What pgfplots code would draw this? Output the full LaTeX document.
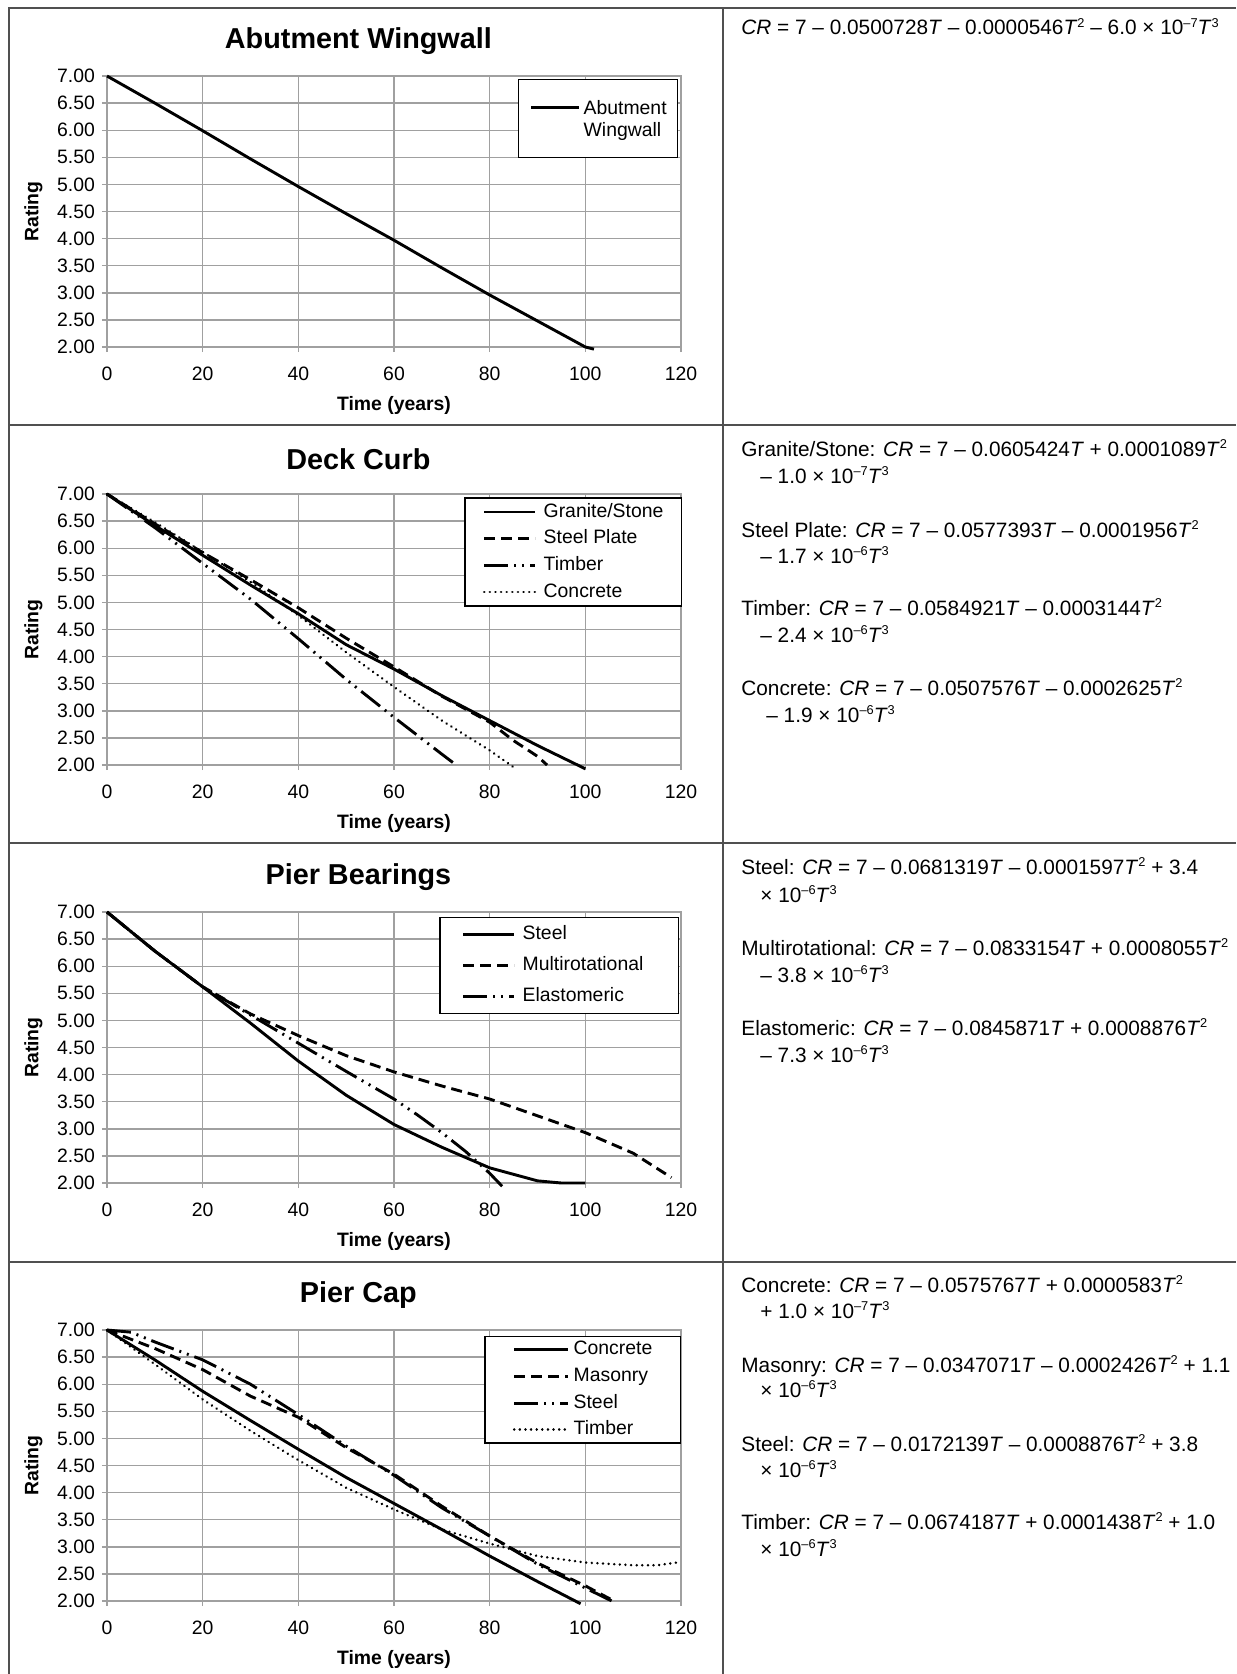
\documentclass[border=0pt]{standalone}
\usepackage{fontspec}
\setmainfont{Liberation Sans}
\usepackage{pgfplots}
\pgfplotsset{compat=1.18}
\definecolor{gridc}{RGB}{160,160,160}
\definecolor{tabc}{RGB}{80,80,80}
\newcommand\chartfont{\fontsize{9.7pt}{12pt}\selectfont}
\newcommand\eqfont{\fontsize{10.4pt}{13.5pt}\selectfont}
\newcommand\CR{\textit{CR}}
\newcommand\TT{\textit{T}}
\newcommand\sups[1]{\raisebox{3.9pt}{\fontsize{6.4pt}{7pt}\selectfont #1}}
\newcommand\sq{\sups{2}}
\newcommand\cu{\sups{3}}
\pgfplotsset{
  crchart/.style={
    scale only axis, width=287pt, height=135.5pt, anchor=south west,
    xmin=0, xmax=120, ymin=2, ymax=7, clip=false,
    xtick={0,20,...,120}, ytick={2,2.5,...,7},
    /pgf/number format/assume math mode=true,
    yticklabel style={/pgf/number format/.cd, fixed, fixed zerofill, precision=2},
    xticklabel style={yshift=-4pt},
    ticklabel style={font=\chartfont},
    grid=major, major grid style={gridc, line width=0.7pt},
    axis line style={gridc, line width=0.7pt},
    tick style={gridc, line width=0.7pt},
    tick align=outside, major tick length=2.5pt,
    xtick pos=bottom, ytick pos=left,
    xlabel={\bfseries Time (years)}, ylabel={\bfseries Rating},
    label style={font=\chartfont},
    xlabel style={at={(axis description cs:0.5,-0.214)}, anchor=center},
    ylabel style={at={(axis description cs:-0.128,0.5)}, anchor=center},
    title style={at={(axis description cs:0.438,1.084)}, anchor=center, yshift=0pt, font=\fontsize{14.4pt}{16pt}\selectfont\bfseries},
    legend cell align=left,
    legend style={draw=black, line width=0.75pt, fill=white, font=\chartfont,
      nodes={inner sep=0pt, text height=7pt, text depth=2pt}, column sep=3.5pt},
  },
  s1/.style={black, line width=1.45pt, line join=round},
  s2/.style={black, line width=1.45pt, dash pattern=on 5.5pt off 3pt},
  s3/.style={black, line width=1.45pt, dash pattern=on 12pt off 3pt on 1pt off 3pt on 1pt off 3pt},
  s4/.style={black, line width=1.35pt, line cap=round, dash pattern=on 0.01pt off 2.8pt},
}
\begin{document}
\begin{tikzpicture}
\useasboundingbox (0,0) rectangle (618pt,-837pt);
\begin{scope}[x=0.5pt,y=-0.5pt]
\draw[tabc, line width=0.75pt] (9,1674) -- (9,8) -- (1236,8);
\draw[tabc, line width=0.75pt] (723,8) -- (723,1674);
\draw[tabc, line width=0.75pt] (9,425) -- (1236,425);
\draw[tabc, line width=0.75pt] (9,843) -- (1236,843);
\draw[tabc, line width=0.75pt] (9,1262) -- (1236,1262);
\tikzset{eq/.style={anchor=base west, inner sep=0pt, font=\eqfont}}
% row 1
\node[eq] at (741,35) {\CR{} = 7 – 0.0500728\TT{} – 0.0000546\TT\sq{} – 6.0 × 10\sups{–7}\TT\cu};
% row 2
\node[eq] at (741,456) {Granite/Stone: \CR{} = 7 – 0.0605424\TT{} + 0.0001089\TT\sq};
\node[eq] at (760,483) {– 1.0 × 10\sups{–7}\TT\cu};
\node[eq] at (741,537) {Steel Plate: \CR{} = 7 – 0.0577393\TT{} – 0.0001956\TT\sq};
\node[eq] at (760,563) {– 1.7 × 10\sups{–6}\TT\cu};
\node[eq] at (741,615) {Timber: \CR{} = 7 – 0.0584921\TT{} – 0.0003144\TT\sq};
\node[eq] at (760,642) {– 2.4 × 10\sups{–6}\TT\cu};
\node[eq] at (741,695) {Concrete: \CR{} = 7 – 0.0507576\TT{} – 0.0002625\TT\sq};
\node[eq] at (766,722) {– 1.9 × 10\sups{–6}\TT\cu};
% row 3
\node[eq] at (741,874) {Steel: \CR{} = 7 – 0.0681319\TT{} – 0.0001597\TT\sq{} + 3.4};
\node[eq] at (760,902) {× 10\sups{–6}\TT\cu};
\node[eq] at (741,955) {Multirotational: \CR{} = 7 – 0.0833154\TT{} + 0.0008055\TT\sq};
\node[eq] at (760,982) {– 3.8 × 10\sups{–6}\TT\cu};
\node[eq] at (741,1035) {Elastomeric: \CR{} = 7 – 0.0845871\TT{} + 0.0008876\TT\sq};
\node[eq] at (760,1062) {– 7.3 × 10\sups{–6}\TT\cu};
% row 4
\node[eq] at (741,1292) {Concrete: \CR{} = 7 – 0.0575767\TT{} + 0.0000583\TT\sq};
\node[eq] at (760,1318) {+ 1.0 × 10\sups{–7}\TT\cu};
\node[eq] at (741,1372) {Masonry: \CR{} = 7 – 0.0347071\TT{} – 0.0002426\TT\sq{} + 1.1};
\node[eq] at (760,1397) {× 10\sups{–6}\TT\cu};
\node[eq] at (741,1451) {Steel: \CR{} = 7 – 0.0172139\TT{} – 0.0008876\TT\sq{} + 3.8};
\node[eq] at (760,1477) {× 10\sups{–6}\TT\cu};
\node[eq] at (741,1529) {Timber: \CR{} = 7 – 0.0674187\TT{} + 0.0001438\TT\sq{} + 1.0};
\node[eq] at (760,1556) {× 10\sups{–6}\TT\cu};
\end{scope}

% ---------- Abutment Wingwall
\begin{axis}[crchart, at={(53.5pt,-173.5pt)}, title={Abutment Wingwall},
  legend style={at={(axis description cs:0.716,0.989)}, anchor=north west, inner xsep=5.5pt, inner ysep=7pt, column sep=1.5pt,
    nodes={text height={}, text depth={}}},
  legend image code/.code={\path (-3.5pt,5.4pt) -- (0pt,5.4pt); \draw[#1] (0pt,5.4pt) -- (20.5pt,5.4pt);}]
\addplot[s1] coordinates {(0,7) (10,6.50) (20,5.99) (30,5.47) (40,4.96) (50,4.46) (60,3.97) (70,3.46) (80,2.96) (90,2.48) (100,2.00) (101.8,1.96)};
\addlegendentry{\fontsize{9.7pt}{11pt}\selectfont\begin{tabular}{@{}l@{}}\rule{0pt}{10.5pt}Abutment\\Wingwall\end{tabular}}
\end{axis}

% ---------- Deck Curb
\begin{axis}[crchart, at={(53.5pt,-382.5pt)}, title={Deck Curb},
  legend style={at={(axis description cs:0.622,0.988)}, anchor=north west, inner xsep=9pt, inner ysep=2.5pt, row sep=4.35pt},
  legend image code/.code={\draw[#1] (0pt,0pt) -- (25.5pt,0pt);}]
\addplot[s1] coordinates {(0,7) (10,6.42) (20,5.87) (30,5.32) (40,4.79) (50,4.22) (60,3.77) (70,3.28) (80,2.82) (90,2.36) (100,1.93)};
\addlegendentry{Granite/Stone}
\addplot[s2] coordinates {(0,7) (10,6.45) (20,5.92) (30,5.42) (40,4.90) (50,4.34) (60,3.81) (70,3.27) (80,2.79) (85,2.45) (90,2.16) (92,2.0)};
\addlegendentry{Steel Plate}
\addplot[s3] coordinates {(0,7) (10,6.38) (15,6.05) (20,5.72) (30,5.06) (40,4.33) (50,3.58) (60,2.88) (70,2.20) (73,2.0)};
\addlegendentry{Timber}
\addplot[s4] coordinates {(0,7) (10,6.48) (20,5.93) (30,5.38) (40,4.76) (50,4.08) (60,3.44) (70,2.82) (80,2.27) (85,1.96)};
\addlegendentry{Concrete}
\end{axis}

% ---------- Pier Bearings
\begin{axis}[crchart, at={(53.5pt,-591.5pt)}, title={Pier Bearings},
  legend style={at={(axis description cs:0.5784,0.982)}, anchor=north west, inner xsep=11pt, inner ysep=4pt, row sep=6.5pt},
  legend image code/.code={\draw[#1] (0pt,0pt) -- (25.5pt,0pt);}]
\addplot[s1] coordinates {(0,7) (10,6.28) (20,5.62) (30,4.95) (40,4.25) (50,3.62) (60,3.08) (70,2.66) (80,2.28) (90,2.04) (95,2.0) (100,2.0)};
\addlegendentry{Steel}
\addplot[s2] coordinates {(0,7) (10,6.28) (20,5.62) (30,5.12) (40,4.72) (50,4.35) (60,4.05) (70,3.79) (80,3.55) (90,3.24) (100,2.93) (110,2.55) (118,2.10)};
\addlegendentry{Multirotational\kern6.5pt}
\addplot[s3] coordinates {(0,7) (10,6.28) (20,5.62) (30,5.10) (40,4.58) (50,4.06) (60,3.55) (65,3.25) (70,2.93) (75,2.58) (80,2.18) (82.6,1.94)};
\addlegendentry{Elastomeric}
\end{axis}

% ---------- Pier Cap
\begin{axis}[crchart, at={(53.5pt,-800.5pt)}, title={Pier Cap},
  legend style={at={(axis description cs:0.6568,0.978)}, anchor=north west, inner xsep=14pt, inner ysep=2pt, row sep=4.35pt, column sep=2pt},
  legend image code/.code={\draw[#1] (0pt,0pt) -- (27pt,0pt);}]
\addplot[s1] coordinates {(0,7) (10,6.45) (20,5.87) (30,5.33) (40,4.80) (50,4.28) (60,3.80) (70,3.32) (80,2.83) (90,2.36) (99,1.95)};
\addlegendentry{Concrete}
\addplot[s2] coordinates {(0,7) (10,6.66) (20,6.27) (30,5.78) (40,5.39) (50,4.83) (60,4.34) (70,3.75) (80,3.20) (90,2.70) (100,2.28) (106,2.0)};
\addlegendentry{Masonry}
\addplot[s3] coordinates {(0,7) (5,6.96) (10,6.78) (20,6.45) (30,6.00) (40,5.44) (50,4.86) (60,4.32) (70,3.72) (80,3.20) (90,2.68) (100,2.24) (106,1.98)};
\addlegendentry{Steel}
\addplot[s4] coordinates {(0,7) (10,6.37) (20,5.72) (30,5.14) (40,4.60) (50,4.09) (60,3.69) (70,3.32) (80,3.06) (90,2.83) (100,2.71) (110,2.66) (115,2.66) (120,2.72)};
\addlegendentry{Timber}
\end{axis}
\end{tikzpicture}
\end{document}
